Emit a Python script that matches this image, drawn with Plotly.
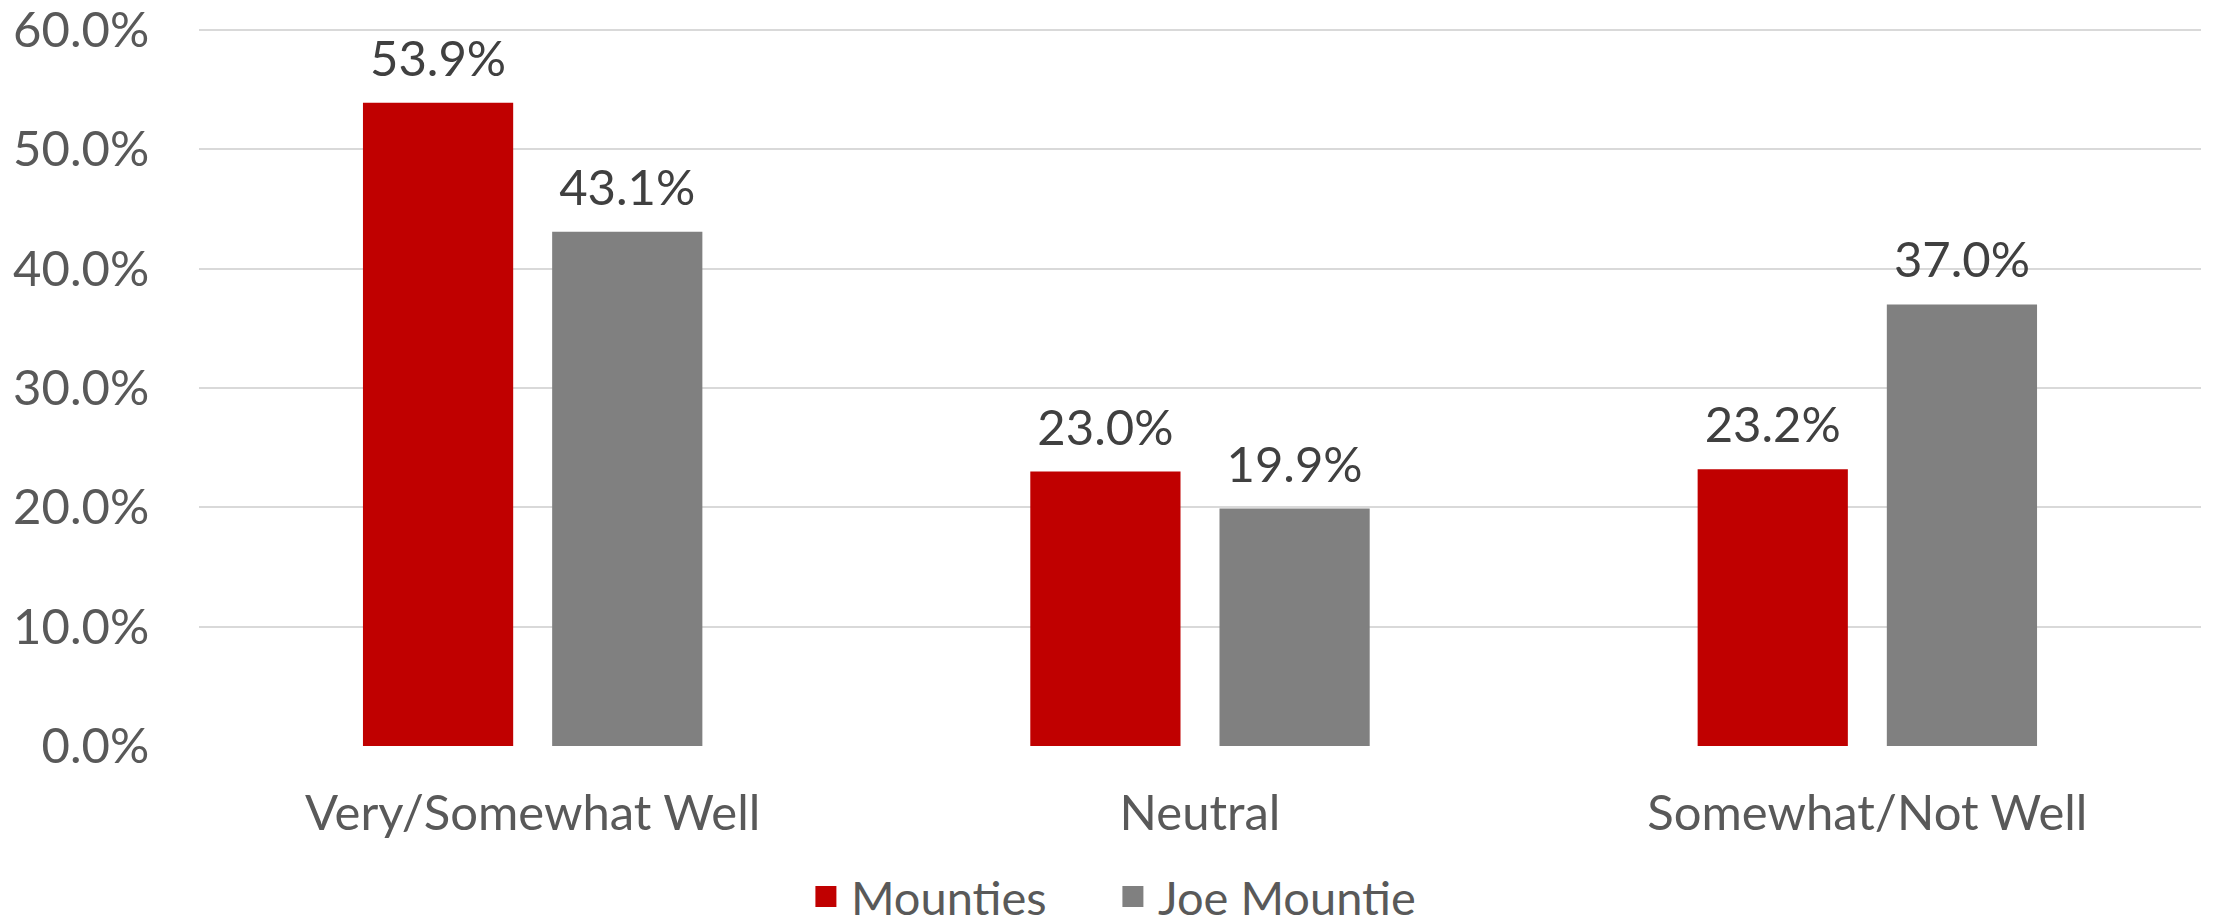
import plotly.graph_objects as go

categories = ["Very/Somewhat Well", "Neutral", "Somewhat/Not Well"]
mounties = [53.9, 23.0, 23.2]
joe_mountie = [43.1, 19.9, 37.0]
series_names = ["Mounties", "Joe Mountie"]
colors = ["#C00000", "#808080"]
y_ticks = [0, 10, 20, 30, 40, 50, 60]
y_tick_labels = ["0.0%", "10.0%", "20.0%", "30.0%", "40.0%", "50.0%", "60.0%"]

FONT = "Lato, 'Noto Sans', sans-serif"
FS = 49
BARGAP = 0.433

fig = go.Figure()
for name, vals, col in zip(series_names, [mounties, joe_mountie], colors):
    fig.add_trace(go.Bar(
        x=categories, y=vals, name=name, offsetgroup=name,
        marker=dict(color=col, line=dict(width=0)),
        showlegend=False, hoverinfo="x+y",
    ))
    # data labels
    fig.add_trace(go.Scatter(
        x=categories, y=vals, mode="markers+text", offsetgroup=name,
        text=[f"{v:.1f}%" for v in vals], textposition="top center",
        textfont=dict(family=FONT, size=FS, color="#404040"),
        marker=dict(size=22, opacity=0, color=col),
        showlegend=False, hoverinfo="skip", cliponaxis=False,
    ))
    # legend swatch
    fig.add_trace(go.Scatter(
        x=[None], y=[None], mode="markers", name=name, offsetgroup=name,
        marker=dict(symbol="square", size=16, color=col,
                    line=dict(color=col, width=5)),
        showlegend=True,
    ))

fig.update_layout(
    width=2214, height=924,
    margin=dict(l=191, r=21, t=16, b=186, autoexpand=False),
    paper_bgcolor="white", plot_bgcolor="white",
    barmode="group", bargap=BARGAP, bargroupgap=0.206,
    scattermode="group", scattergap=BARGAP,
    font=dict(family=FONT, size=FS, color="#595959"),
    legend=dict(orientation="h", x=0.454, xanchor="center",
                y=-0.209, yanchor="middle",
                font=dict(family=FONT, size=47, color="#595959"),
                itemsizing="trace", itemwidth=40,
                entrywidth=252, entrywidthmode="pixels"),
    xaxis=dict(type="category", showgrid=False, zeroline=False,
               showline=False, ticks="outside", ticklen=24,
               tickcolor="rgba(0,0,0,0)", automargin=False,
               tickfont=dict(family=FONT, size=FS, color="#595959")),
    yaxis=dict(range=[0, 60.5], tickvals=y_ticks, ticktext=y_tick_labels,
               showgrid=True, gridcolor="#D9D9D9", gridwidth=1.5,
               zeroline=False, showline=False, automargin=False,
               ticklabeloverflow="allow",
               ticks="outside", ticklen=39, tickcolor="rgba(0,0,0,0)",
               tickfont=dict(family=FONT, size=FS, color="#595959")),
)

fig.write_html("out.html")
